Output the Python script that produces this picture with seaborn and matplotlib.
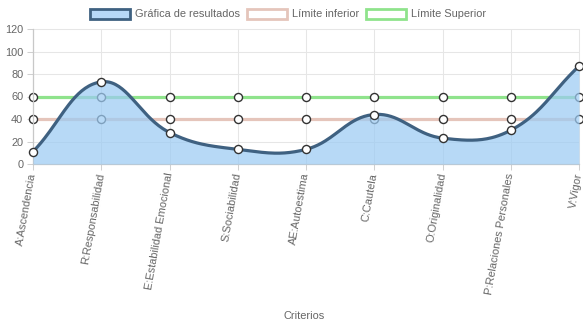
import numpy as np
import pandas as pd
import matplotlib
matplotlib.use("Agg")
import matplotlib.pyplot as plt
import matplotlib.transforms as mtransforms
from matplotlib.patches import Patch
import seaborn as sns

criterios = ["A:Ascendencia", "R:Responsabilidad", "E:Estabilidad Emocional",
             "S:Sociabilidad", "AE:Autoestima", "C:Cautela", "O:Originalidad",
             "P:Relaciones Personales", "V:Vigor"]
resultados = [11, 73, 28, 13, 13, 44, 23, 30, 87]
limite_inferior = [40, 40, 40, 40, 40, 40, 40, 40, 40]
limite_superior = [60, 60, 60, 60, 60, 60, 60, 60, 60]
y_ticks = [0, 20, 40, 60, 80, 100, 120]

FONT = ["Liberation Sans", "DejaVu Sans"]
TXT = "#666666"
FS = 7.92  # 11 px at 100 dpi

sns.set_theme(style="white")
plt.rcParams["font.family"] = FONT

W, H = 583, 328
fig = plt.figure(figsize=(W / 100, H / 100), dpi=100)
ax = fig.add_axes([33 / W, 1 - 164 / H, (579 - 33) / W, (164 - 29) / H])

x = np.arange(len(criterios))
df = pd.DataFrame({"x": x, "res": resultados, "inf": limite_inferior,
                   "sup": limite_superior})

ax.set_xlim(0, len(criterios) - 1)
ax.set_ylim(0, 120)

# grid
for yv in y_ticks:
    ax.axhline(yv, color="#e6e6e6", lw=0.75, zorder=0)
for xv in x:
    ax.axvline(xv, color="#e6e6e6", lw=0.75, zorder=0)


def spline(xs, ys, tension=0.4, n=40):
    """Bezier curve through points with tension-based control points,
    computed in display space."""
    pts = ax.transData.transform(np.column_stack([xs, ys]))
    m = len(pts)
    prev_c = pts.copy()
    next_c = pts.copy()
    for i in range(m):
        p0 = pts[i - 1] if i > 0 else pts[i]
        p1 = pts[i]
        p2 = pts[i + 1] if i < m - 1 else pts[i]
        d01 = np.hypot(*(p1 - p0))
        d12 = np.hypot(*(p2 - p1))
        tot = d01 + d12
        s01 = d01 / tot if tot else 0
        s12 = d12 / tot if tot else 0
        fa, fb = tension * s01, tension * s12
        prev_c[i] = p1 - fa * (p2 - p0)
        next_c[i] = p1 + fb * (p2 - p0)
    bb = ax.get_window_extent()
    out = []
    t = np.linspace(0, 1, n)[:, None]
    for i in range(m - 1):
        a, b, c, d = pts[i], next_c[i], prev_c[i + 1], pts[i + 1]
        b = np.clip(b, [bb.x0, bb.y0], [bb.x1, bb.y1])
        c = np.clip(c, [bb.x0, bb.y0], [bb.x1, bb.y1])
        seg = ((1 - t) ** 3) * a + 3 * ((1 - t) ** 2) * t * b + 3 * (1 - t) * t ** 2 * c + t ** 3 * d
        out.append(seg if i == 0 else seg[1:])
    out = np.vstack(out)
    return ax.transData.inverted().transform(out)


# limit lines
sns.lineplot(data=df, x="x", y="sup", ax=ax, color="#8fe38c", lw=2.3, zorder=2,
             marker="o", markersize=5.8, markerfacecolor="white",
             markeredgecolor="#333333", markeredgewidth=1.0)
sns.lineplot(data=df, x="x", y="inf", ax=ax, color="#e5c5bb", lw=2.3, zorder=2,
             marker="o", markersize=5.8, markerfacecolor="white",
             markeredgecolor="#333333", markeredgewidth=1.0)

# results curve with fill
curve = spline(df["x"].values, df["res"].values)
ax.fill_between(curve[:, 0], 0, curve[:, 1], color="#9ccbf3", alpha=0.72,
                lw=0, zorder=3)
ax.plot(curve[:, 0], curve[:, 1], color="#3f6181", lw=2.3, zorder=4,
        solid_capstyle="round")
sns.scatterplot(data=df, x="x", y="res", ax=ax, s=34, color="white",
                edgecolor="#333333", linewidth=1.0, zorder=5, clip_on=False)
for c in ax.collections[-1:]:
    c.set_clip_on(False)
for ln in ax.lines:
    ln.set_clip_on(False)

ax.set_xticks(x)
ax.set_xticklabels(criterios, rotation=80, ha="right", va="center",
                   rotation_mode="anchor", fontsize=FS, color=TXT)
# the last label sits a little inside the right edge
last = ax.get_xticklabels()[-1]
last.set_transform(last.get_transform() +
                   mtransforms.ScaledTranslation(-4 / 100, 0, fig.dpi_scale_trans))
ax.set_yticks(y_ticks)
ax.set_yticklabels([str(v) for v in y_ticks], fontsize=FS, color=TXT)
ax.tick_params(axis="both", length=4, width=0.75, color="#d0d0d0",
               direction="out", bottom=True, left=True, pad=3)
ax.tick_params(axis="x", pad=2.5)
ax.set_xlabel("Criterios", fontsize=FS, color=TXT)
ax.xaxis.set_label_coords(0.497, -(311 - 164) / 135)
ax.set_ylabel("")

sns.despine(ax=ax, top=True, right=True)
for side in ("left", "bottom"):
    ax.spines[side].set_color("#c8c8c8")
    ax.spines[side].set_linewidth(0.9)

handles = [
    Patch(facecolor="#b7d8f7", edgecolor="#3f6181", lw=2.0, label="Gráfica de resultados"),
    Patch(facecolor="white", edgecolor="#e5c5bb", lw=2.0, label="Límite inferior"),
    Patch(facecolor="white", edgecolor="#8fe38c", lw=2.0, label="Límite Superior"),
]
fig.legend(handles=handles, loc="center", bbox_to_anchor=(288 / W, 1 - 14 / H),
           ncol=3, frameon=False, fontsize=FS, labelcolor=TXT,
           handlelength=3.6, handleheight=1.05, handletextpad=0.45,
           columnspacing=0.65, borderaxespad=0)

fig.savefig("out.png", dpi=100)
